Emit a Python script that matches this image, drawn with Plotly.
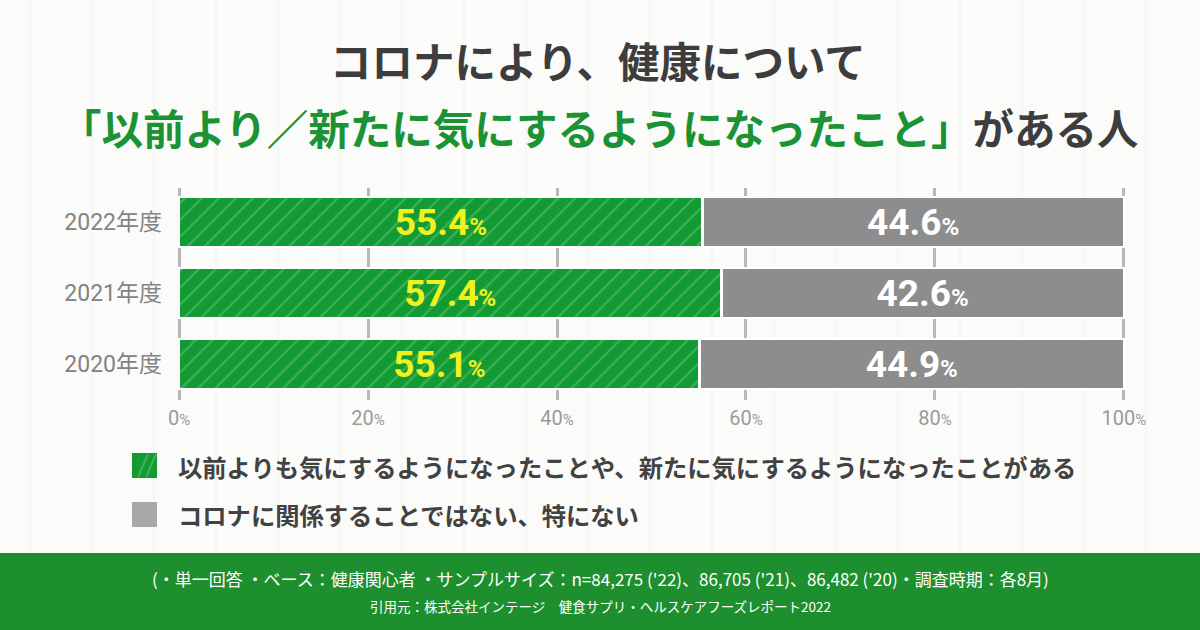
import plotly.graph_objects as go

# ---------------- data ----------------
years = ["2022年度", "2021年度", "2020年度"]
concerned = [55.4, 57.4, 55.1]        # 以前より／新たに気にするようになった
not_related = [44.6, 42.6, 44.9]      # コロナに関係ない、特にない
x_ticks = [0, 20, 40, 60, 80, 100]
x_tick_labels = [f"{v}<span style='font-size:15px'>%</span>" for v in x_ticks]
legend_labels = [
    "以前よりも気にするようになったことや、新たに気にするようになったことがある",
    "コロナに関係することではない、特にない",
]
title_line1 = "コロナにより、健康について"
title_line2_green = "「以前より／新たに気にするようになったこと」"
title_line2_dark = "がある人"
footer_line1 = "(・単一回答 ・ベース：健康関心者 ・サンプルサイズ：n=84,275 ('22)、86,705 ('21)、86,482 ('20)・調査時期：各8月)"
footer_line2 = "引用元：株式会社インテージ　健食サプリ・ヘルスケアフーズレポート2022"

# ---------------- style ----------------
GREEN = "#129b32"
GREEN_LIGHT = "#3fb05a"
GREEN_TITLE = "#1b9334"
GREEN_FOOT = "#1e8f2e"
GRAY_BAR = "#8d8d8d"
GRAY_LEG = "#a8a8a8"
DARK = "#3d3d3d"
YELLOW = "#f1f11e"
BG = "#fbfbfa"
PLANK = "#f2f1ee"
JP = "'Noto Sans CJK JP', sans-serif"
NUM = "Roboto, 'Noto Sans CJK JP', sans-serif"

W, H = 1200, 630
L, R, T, B = 178, 1125, 188, 400   # plot area in pixels


def px(x):
    return (x - L) / (R - L)


def py(y):
    return (B - y) / (B - T)


fig = go.Figure()

fig.add_trace(go.Bar(
    y=years, x=concerned, orientation="h", width=0.70,
    name=legend_labels[0],
    marker=dict(color=GREEN, line=dict(color="white", width=2.5),
                pattern=dict(shape="/", fgcolor=GREEN_LIGHT, bgcolor=GREEN,
                             size=12, solidity=0.18, fillmode="replace")),
    texttemplate="%{x:.1f}<span style='font-size:24px'>%</span>",
    textposition="inside", insidetextanchor="middle",
    textfont=dict(family=NUM, size=37, color=YELLOW, weight=700),
    hoverinfo="skip",
))
fig.add_trace(go.Bar(
    y=years, x=not_related, orientation="h", width=0.70,
    name=legend_labels[1],
    marker=dict(color=GRAY_BAR, line=dict(color="white", width=2.5)),
    texttemplate="%{x:.1f}<span style='font-size:24px'>%</span>",
    textposition="inside", insidetextanchor="middle",
    textfont=dict(family=NUM, size=37, color="white", weight=700),
    hoverinfo="skip",
))

shapes = []
annotations = []

# faint wooden planks in the background
for xp in range(30, W, 62):
    shapes.append(dict(type="line", xref="paper", yref="paper",
                       x0=px(xp), x1=px(xp), y0=py(553), y1=py(0),
                       line=dict(color=PLANK, width=1), layer="below"))

# footer band
shapes.append(dict(type="rect", xref="paper", yref="paper",
                   x0=px(0), x1=px(W), y0=py(553), y1=py(H + 2),
                   fillcolor=GREEN_FOOT, line=dict(width=0), layer="below"))
annotations.append(dict(xref="paper", yref="paper", x=px(600), y=py(578),
                        xanchor="center", yanchor="middle",
                        text=footer_line1, showarrow=False,
                        font=dict(family=JP, size=17, color="white")))
annotations.append(dict(xref="paper", yref="paper", x=px(600), y=py(606),
                        xanchor="center", yanchor="middle",
                        text=footer_line2, showarrow=False,
                        font=dict(family=JP, size=13.5, color="white")))

# titles
annotations.append(dict(xref="paper", yref="paper", x=px(598), y=py(60),
                        xanchor="center", yanchor="middle",
                        text=title_line1, showarrow=False,
                        font=dict(family=JP, size=41.5, color=DARK, weight=700)))
annotations.append(dict(xref="paper", yref="paper", x=px(599), y=py(127),
                        xanchor="center", yanchor="middle",
                        text=f"<span style='color:{GREEN_TITLE}'>{title_line2_green}</span>{title_line2_dark}",
                        showarrow=False,
                        font=dict(family=JP, size=41.5, color=DARK, weight=700)))

# custom legend
shapes.append(dict(type="rect", xref="paper", yref="paper",
                   x0=px(132), x1=px(157), y0=py(478), y1=py(453),
                   fillcolor=GREEN, line=dict(width=0)))
for a, b in [(138, 148), (146, 156)]:
    shapes.append(dict(type="line", xref="paper", yref="paper",
                       x0=px(a), x1=px(b), y0=py(477), y1=py(454),
                       line=dict(color=GREEN_LIGHT, width=2)))
shapes.append(dict(type="rect", xref="paper", yref="paper",
                   x0=px(132), x1=px(157), y0=py(527), y1=py(502),
                   fillcolor=GRAY_LEG, line=dict(width=0)))
for label, yc in zip(legend_labels, [466, 514]):
    annotations.append(dict(xref="paper", yref="paper", x=px(176), y=py(yc),
                            xanchor="left", yanchor="middle", text=label, showarrow=False,
                            font=dict(family=JP, size=24.3, color="#424242", weight=700)))

fig.update_layout(
    width=W, height=H,
    margin=dict(l=L, r=W - R, t=T, b=H - B, pad=0),
    paper_bgcolor=BG, plot_bgcolor="rgba(0,0,0,0)",
    barmode="stack", showlegend=False,
    shapes=shapes, annotations=annotations,
    xaxis=dict(range=[-0.12, 100.12], tickvals=x_ticks, ticktext=x_tick_labels,
               showgrid=True, gridcolor="#b8b8b8", gridwidth=3, zeroline=False,
               showline=False, ticks="", ticklabelstandoff=4,
               tickfont=dict(family=NUM, size=20, color="#9a9a9a"), fixedrange=True),
    yaxis=dict(range=[2.507, -0.479], showgrid=False, zeroline=False, showline=False,
               ticks="", ticklabelstandoff=15,
               tickfont=dict(family=NUM, size=23, color="#838383"), fixedrange=True),
)

fig.write_html("out.html", config={"displayModeBar": False},
               post_script="document.body.style.margin='0';")
